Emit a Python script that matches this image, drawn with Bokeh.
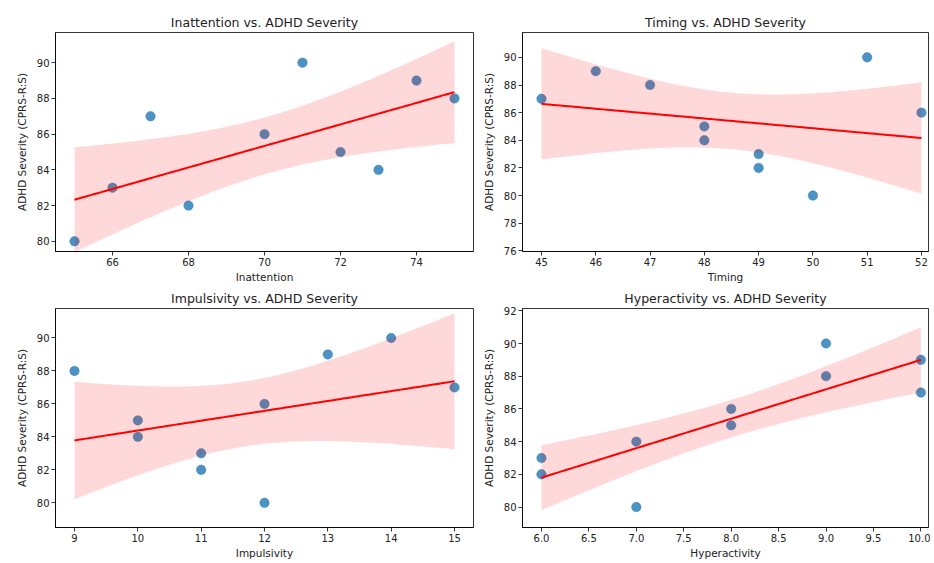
import numpy as np
from bokeh.plotting import figure
from bokeh.layouts import column, row
from bokeh.models import FixedTicker, PrintfTickFormatter, Range1d
from bokeh.embed import file_html
from bokeh.resources import INLINE

# ---- data ----
inattention = [65, 66, 67, 68, 70, 71, 72, 73, 74, 75]
severity_inattention = [80, 83, 87, 82, 86, 90, 85, 84, 89, 88]

timing = [45, 46, 47, 48, 48, 49, 49, 50, 51, 52]
severity_timing = [87, 89, 88, 85, 84, 83, 82, 80, 90, 86]

impulsivity = [9, 10, 10, 11, 11, 12, 12, 13, 14, 15]
severity_impulsivity = [88, 85, 84, 83, 82, 86, 80, 89, 90, 87]

hyperactivity = [6, 6, 7, 7, 8, 8, 9, 9, 10, 10]
severity_hyperactivity = [83, 82, 84, 80, 86, 85, 90, 88, 89, 87]

ticks_inattention = [66, 68, 70, 72, 74]
ticks_timing = [45, 46, 47, 48, 49, 50, 51, 52]
ticks_impulsivity = [9, 10, 11, 12, 13, 14, 15]
ticks_hyperactivity = [6.0, 6.5, 7.0, 7.5, 8.0, 8.5, 9.0, 9.5, 10.0]
yticks_a = [80, 82, 84, 86, 88, 90]
yticks_timing = [76, 78, 80, 82, 84, 86, 88, 90]
yticks_hyper = [80, 82, 84, 86, 88, 90, 92]

Z95 = 1.96  # 95% confidence band (normal approximation)

FONT = "DejaVu Sans"
TXT = "#222222"


def panel(x, y, xlabel, title, xr, yr, xticks, yticks, fmt,
          bl, br, bt, bb, w, h):
    p = figure(width=w, height=h, output_backend="svg", toolbar_location=None,
               x_range=Range1d(*xr), y_range=Range1d(*yr),
               min_border_left=bl, min_border_right=br,
               min_border_top=bt, min_border_bottom=bb)
    p.title.text = title
    p.title.align = "center"
    p.title.text_font = FONT
    p.title.text_font_size = "12.5px"
    p.title.text_font_style = "normal"
    p.title.text_color = TXT
    p.title.standoff = 6
    p.xgrid.visible = False
    p.ygrid.visible = False
    p.outline_line_color = "black"
    p.outline_line_width = 0.8
    p.outline_line_alpha = 1
    p.background_fill_color = "white"
    p.border_fill_color = "white"

    xa = np.array(x, float)
    ya = np.array(y, float)
    n = len(xa)
    slope, intercept = np.polyfit(xa, ya, 1)
    mx = xa.mean()
    sxx = ((xa - mx) ** 2).sum()
    resid = ya - (slope * xa + intercept)
    s = np.sqrt((resid ** 2).sum() / (n - 2))
    gx = np.linspace(xa.min(), xa.max(), 100)
    gy = slope * gx + intercept
    se = s * np.sqrt(1.0 / n + (gx - mx) ** 2 / sxx)

    p.scatter(x, y, size=9.5, fill_color="#1f77b4", fill_alpha=0.8,
              line_color="#1f77b4", line_alpha=0.8, line_width=0.5)
    p.varea(x=gx, y1=gy - Z95 * se, y2=gy + Z95 * se,
            fill_color="red", fill_alpha=0.15)
    p.line(gx, gy, line_color="red", line_width=2)

    for ax, lab, tk in ((p.xaxis, xlabel, xticks), (p.yaxis, "ADHD Severity (CPRS-R:S)", yticks)):
        ax.axis_label = lab
        ax.ticker = FixedTicker(ticks=tk)
        ax.minor_tick_line_color = None
        ax.major_tick_in = 0
        ax.major_tick_out = 4
        ax.major_tick_line_color = "black"
        ax.major_tick_line_width = 0.8
        ax.axis_line_color = "black"
        ax.axis_line_width = 0.8
        ax.major_label_text_font = FONT
        ax.major_label_text_font_size = "10px"
        ax.major_label_text_color = TXT
        ax.axis_label_text_font = FONT
        ax.axis_label_text_font_size = "10.5px"
        ax.axis_label_text_font_style = "normal"
        ax.axis_label_text_color = TXT
        ax.major_label_standoff = 2
    p.xaxis.axis_label_standoff = 2
    p.yaxis.axis_label_standoff = 6
    if fmt:
        p.xaxis.formatter = PrintfTickFormatter(format=fmt)
    return p


p1 = panel(inattention, severity_inattention, "Inattention", "Inattention vs. ADHD Severity",
           (64.5, 75.5), (79.43, 91.69), ticks_inattention, yticks_a, None,
           55, 4, 32, 33, 477, 285)
p2 = panel(timing, severity_timing, "Timing", "Timing vs. ADHD Severity",
           (44.65, 52.13), (75.95, 91.8), ticks_timing, yticks_timing, None,
           45, 2, 32, 33, 453, 285)
p3 = panel(impulsivity, severity_impulsivity, "Impulsivity", "Impulsivity vs. ADHD Severity",
           (8.7, 15.3), (78.5, 91.79), ticks_impulsivity, yticks_a, None,
           55, 4, 22, 33, 477, 276)
p4 = panel(hyperactivity, severity_hyperactivity, "Hyperactivity", "Hyperactivity vs. ADHD Severity",
           (5.8, 10.08), (78.75, 92.14), ticks_hyperactivity, yticks_hyper, "%.1f",
           45, 2, 22, 33, 453, 276)

layout = column(row(p1, p2), row(p3, p4))
open("out.html", "w").write(file_html(layout, INLINE))
